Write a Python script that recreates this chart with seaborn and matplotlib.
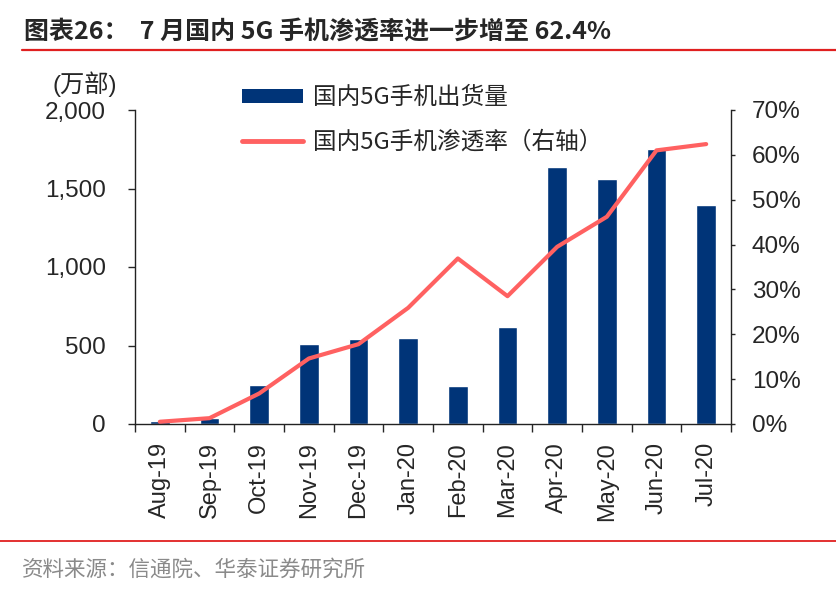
import numpy as np
import pandas as pd
import matplotlib.pyplot as plt
import seaborn as sns
from matplotlib.lines import Line2D
from matplotlib.patches import Patch
from matplotlib.ticker import FuncFormatter

sns.set_style('white')
plt.rcParams['font.family'] = ['Liberation Sans', 'Noto Sans CJK SC', 'DejaVu Sans']

title = "图表26：  7 月国内 5G 手机渗透率进一步增至 62.4%"

# Data
months = ['Aug-19', 'Sep-19', 'Oct-19', 'Nov-19', 'Dec-19', 'Jan-20',
          'Feb-20', 'Mar-20', 'Apr-20', 'May-20', 'Jun-20', 'Jul-20']
shipments = [20, 40, 249, 507, 543, 546, 239, 621, 1638, 1562, 1751, 1394]  # 万部
penetration = [0.5, 1.3, 6.8, 14.6, 17.8, 25.9, 36.9, 28.5, 39.5, 46.2, 61.0, 62.4]  # %

navy = '#003478'
salmon = '#FF6161'

df = pd.DataFrame({'month': months, 'shipments': shipments, 'penetration': penetration})

fig = plt.figure(figsize=(8.36, 5.99), dpi=100)
ax = fig.add_axes([135 / 836, 1 - 424 / 599, 596 / 836, 314 / 599])

sns.barplot(data=df, x='month', y='shipments', color=navy, width=0.4,
            saturation=1, ax=ax)
ax.set_xlim(-0.5, 11.5)
ax.set_ylim(0, 2000)
ax.set_yticks([0, 500, 1000, 1500, 2000])
ax.yaxis.set_major_formatter(FuncFormatter(lambda v, p: f'{int(v):,}'))
ax.set_xlabel('')
ax.set_ylabel('')
ax.tick_params(axis='y', labelsize=17.5, length=5, width=1, direction='out', left=True, pad=16)
ax.set_xticks(np.arange(-0.5, 12, 1), minor=True)
ax.tick_params(axis='x', which='major', length=0, labelsize=17, rotation=90, pad=13)
ax.tick_params(axis='x', which='minor', length=6, width=1, direction='out', bottom=True)
for s in ['top', 'right']:
    ax.spines[s].set_visible(False)
for s in ['left', 'bottom']:
    ax.spines[s].set_color('#222222')
    ax.spines[s].set_linewidth(1)

ax2 = ax.twinx()
sns.lineplot(x=np.arange(len(months)), y=df['penetration'], color=salmon,
             linewidth=3, ax=ax2)
ax2.set_ylim(0, 70)
ax2.set_yticks(np.arange(0, 71, 10))
ax2.yaxis.set_major_formatter(FuncFormatter(lambda v, p: f'{int(v)}%'))
ax2.set_ylabel('')
ax2.tick_params(axis='y', labelsize=17.5, length=3, width=1, direction='out', right=True, pad=12)
for s in ['top', 'left', 'bottom']:
    ax2.spines[s].set_visible(False)
ax2.spines['right'].set_color('#222222')
ax2.spines['right'].set_linewidth(1)
ax2.set_xlim(-0.5, 11.5)

handles = [Patch(facecolor=navy, edgecolor='none'),
           Line2D([0], [0], color=salmon, linewidth=3.5)]
labels = ['国内5G手机出货量', '国内5G手机渗透率（右轴）']
fig.legend(handles, labels, loc='center left',
           bbox_to_anchor=(242 / 836, 1 - 120 / 599),
           frameon=False, handlelength=2.6, handleheight=0.5,
           labelspacing=0.9, handletextpad=0.4, borderpad=0, borderaxespad=0,
           prop={'family': ['Noto Sans CJK SC'], 'size': 17})

fig.text(52 / 836, 1 - 84 / 599, '(万部)', fontsize=17.5, va='center', ha='left',
         family=['Liberation Sans', 'Noto Sans CJK SC'])

fig.text(24 / 836, 1 - 32 / 599, title, fontsize=18, fontweight='bold', va='center',
         family=['Noto Sans CJK SC', 'DejaVu Sans'])
fig.add_artist(Line2D([22 / 836, 1], [1 - 50 / 599] * 2, color='#E02020', linewidth=1.6))
fig.add_artist(Line2D([0, 1], [1 - 541 / 599] * 2, color='#E02020', linewidth=1.3))
fig.text(22 / 836, 1 - 570 / 599, '资料来源：信通院、华泰证券研究所', fontsize=15.5,
         color='#8a8a8a', va='center', family=['Noto Sans CJK SC'])

fig.savefig('out.png', dpi=100)
